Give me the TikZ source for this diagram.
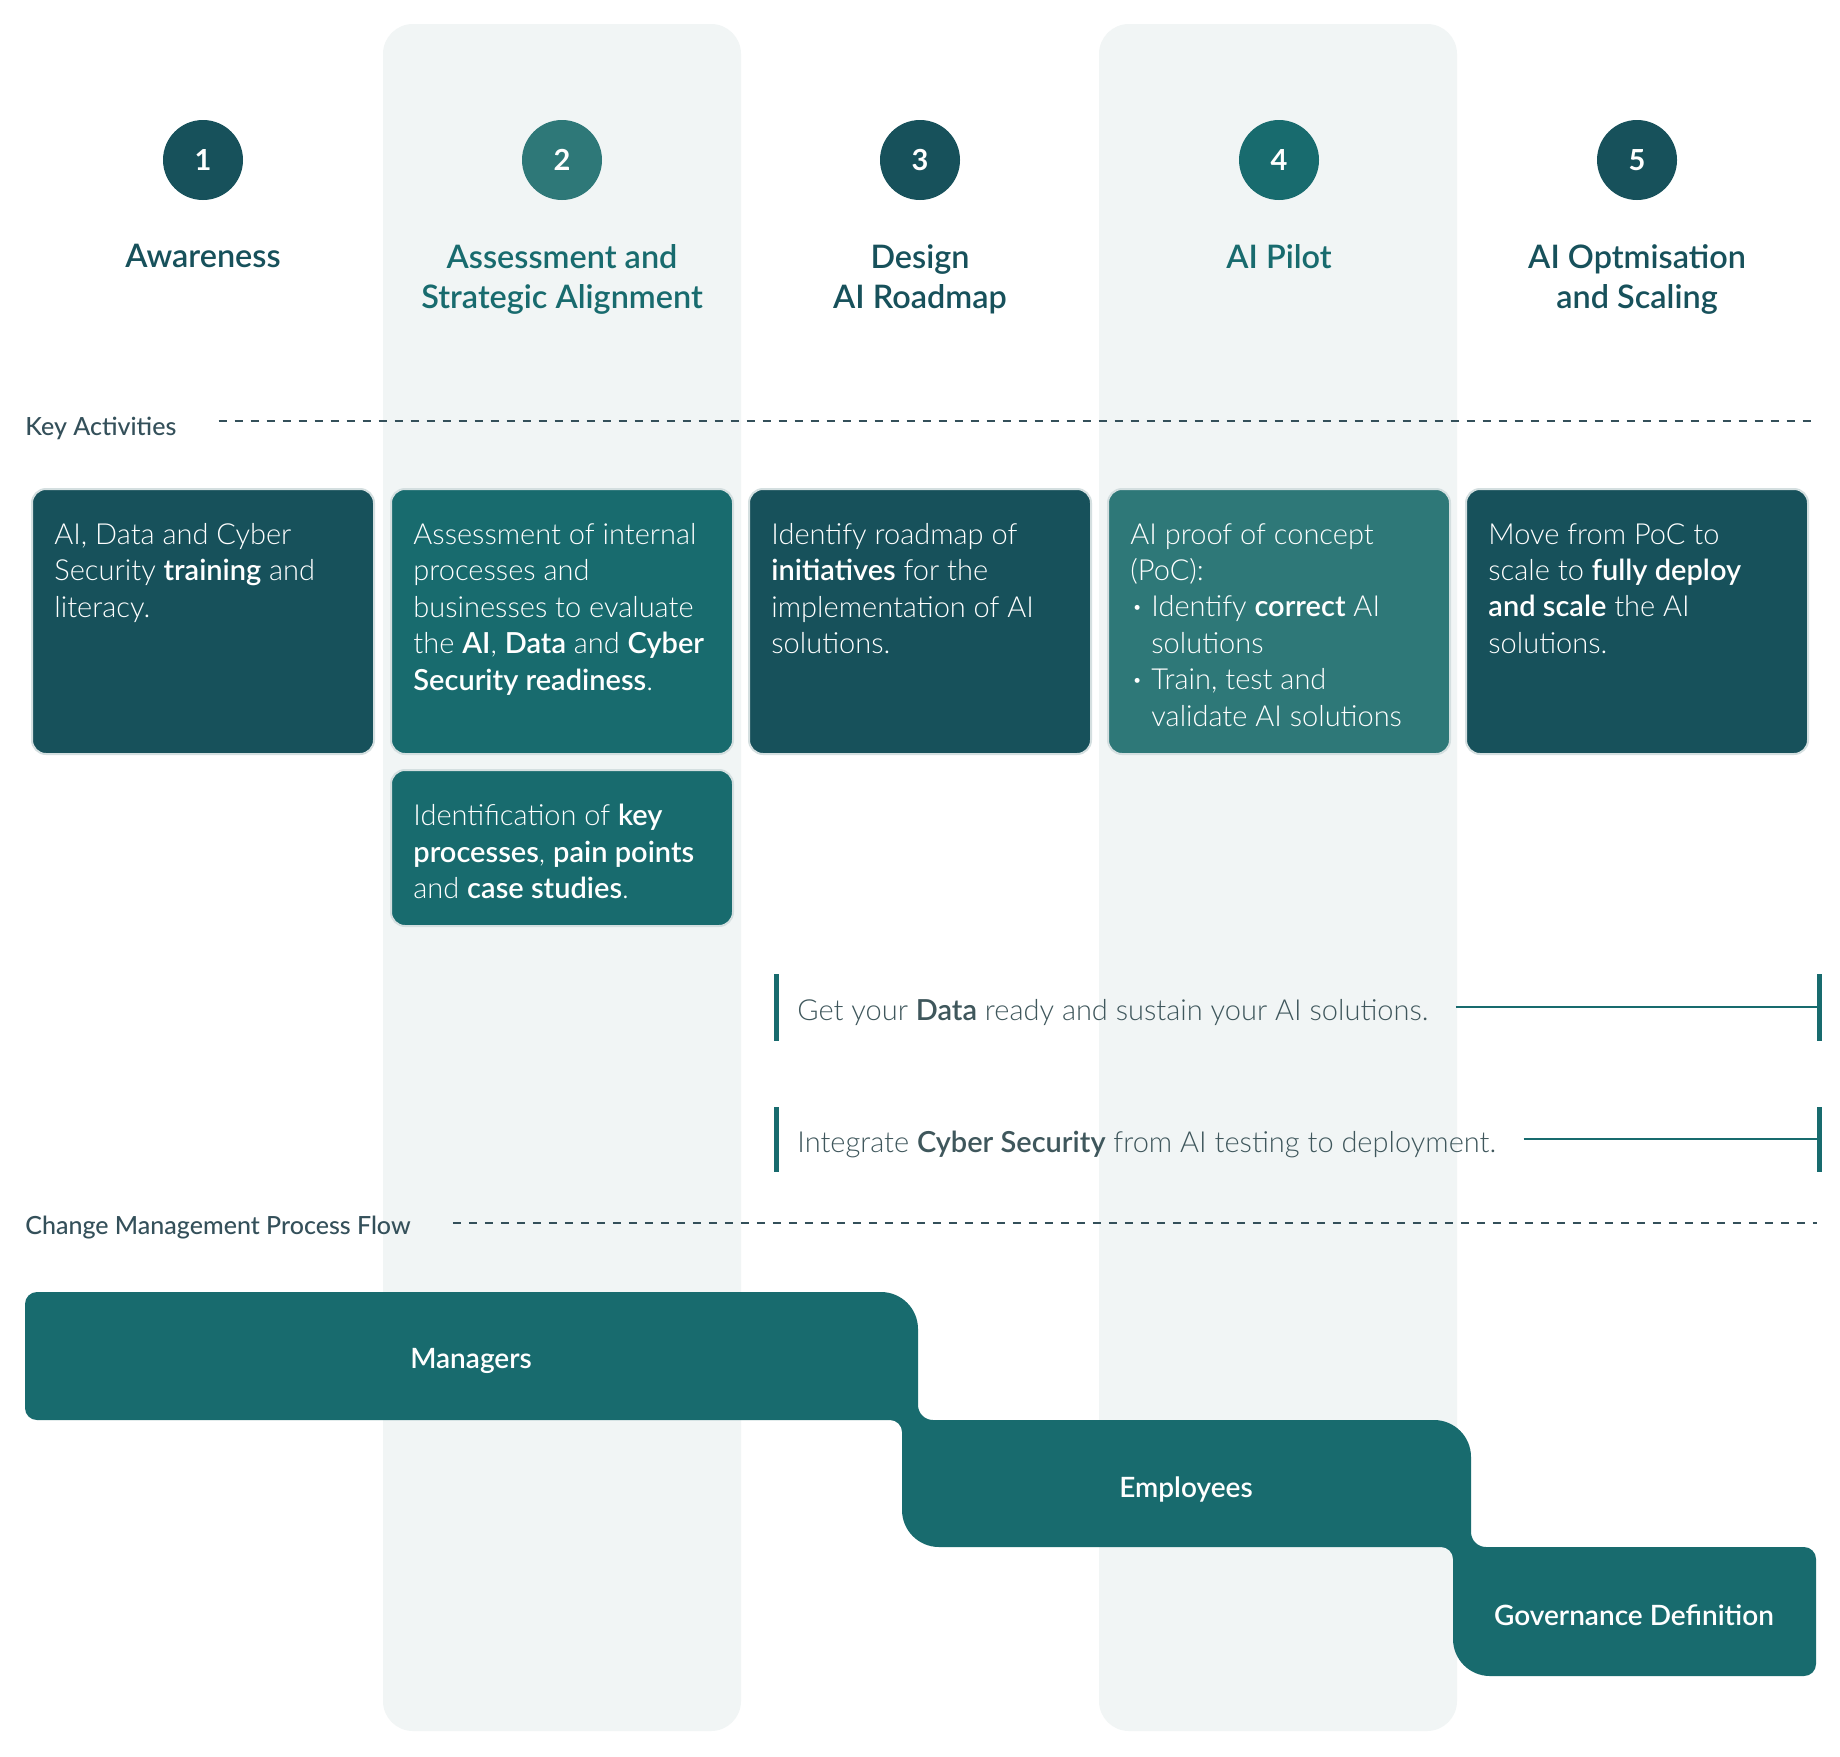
\documentclass[tikz,border=0pt]{standalone}
\usepackage{fontspec}
\setmainfont{Lato}[UprightFont=* Light, BoldFont=* Semibold]
\newfontfamily\semifont{Lato Semibold}
\newfontfamily\boldfont{Lato Bold}
\newfontfamily\medfont{Lato Medium}
\usetikzlibrary{positioning}
\definecolor{darkteal}{HTML}{17515B}
\definecolor{midteal}{HTML}{186B6E}
\definecolor{liteteal}{HTML}{2E7878}
\definecolor{colbg}{HTML}{F1F5F5}
\definecolor{boxedge}{HTML}{D4DFE0}
\definecolor{labelgrey}{HTML}{34505A}
\definecolor{notegrey}{HTML}{3F575C}

\begin{document}
\begin{tikzpicture}[x=0.5pt, y=-0.5pt,
  stepnum/.style={circle, minimum size=40pt, inner sep=0pt, text=white, font=\boldfont\fontsize{14.5}{14.5}\selectfont},
  title/.style={anchor=north, align=center, inner sep=0pt, font=\semifont\fontsize{16.2}{20}\selectfont},
  actbox/.style={draw=boxedge, line width=1pt, rounded corners=7pt, minimum width=171pt, minimum height=132.5pt, inner sep=0pt},
  acttext/.style={anchor=north west, align=left, inner sep=0pt, text=white, font=\fontsize{14.5}{18.2}\selectfont},
  seclabel/.style={anchor=west, inner sep=0pt, text=labelgrey, font=\medfont\fontsize{12.5}{14}\selectfont},
  sepline/.style={labelgrey, line width=1pt, dash pattern=on 4pt off 4pt},
  note/.style={anchor=base west, inner sep=0pt, text=notegrey, font=\fontsize{14.5}{16}\selectfont},
  notebar/.style={midteal, line width=2.5pt},
  noterule/.style={midteal, line width=1.4pt},
  flowlabel/.style={text=white, font=\semifont\fontsize{14}{16}\selectfont}]
  \useasboundingbox (0,0) rectangle (1840,1756);
  \fill[white] (0,0) rectangle (1840,1756);
  % Column highlights
  \fill[colbg, rounded corners=15pt] (383,24) rectangle (741,1731);
  \fill[colbg, rounded corners=15pt] (1099,24) rectangle (1457,1731);
  % Step numbers
  \node[stepnum, fill=darkteal] (n1) at (203,160) {1};
  \node[stepnum, fill=liteteal] (n2) at (562,160) {2};
  \node[stepnum, fill=darkteal] (n3) at (920,160) {3};
  \node[stepnum, fill=midteal] (n4) at (1279,160) {4};
  \node[stepnum, fill=darkteal] (n5) at (1637,160) {5};
  % Step titles
  \node[title, text=darkteal] (t1) at (203,244) {Awareness};
  \node[title, text=midteal] (t2) at (562,244) {Assessment and\\Strategic Alignment};
  \node[title, text=darkteal] (t3) at (920,244) {Design\\AI Roadmap};
  \node[title, text=midteal] (t4) at (1279,244) {AI Pilot};
  \node[title, text=darkteal] (t5) at (1637,244) {AI Optmisation\\and Scaling};
  % Key activities
  \node[seclabel] (keyact) at (25,428) {Key Activities};
  \coordinate (keyend) at (1817,421);
  \draw[sepline] (keyact.east |- keyend) ++(42,0) -- (keyend);
  \node[actbox, fill=darkteal] (act1) at (203,621.5) {};
  \node[actbox, fill=midteal] (act2) at (562,621.5) {};
  \node[actbox, fill=darkteal] (act3) at (920,621.5) {};
  \node[actbox, fill=liteteal] (act4) at (1279,621.5) {};
  \node[actbox, fill=darkteal] (act5) at (1637,621.5) {};
  \node[actbox, fill=midteal, minimum height=78pt] (act2b) at (562,848) {};
  \node[acttext] (act1txt) at ([xshift=11.5pt, yshift=-17.5pt]act1.north west)
    {AI, Data and Cyber\\Security \textbf{training} and\\literacy.};
  \node[acttext] (act2txt) at ([xshift=11.5pt, yshift=-17.5pt]act2.north west)
    {Assessment of internal\\processes and\\businesses to evaluate\\the \textbf{AI}, \textbf{Data} and \textbf{Cyber}\\\textbf{Security readiness}.};
  \node[acttext] (act2btxt) at ([xshift=11.5pt, yshift=-17.5pt]act2b.north west)
    {Identification of \textbf{key}\\\textbf{processes}, \textbf{pain points}\\and \textbf{case studies}.};
  \node[acttext] (act3txt) at ([xshift=11.5pt, yshift=-17.5pt]act3.north west)
    {Identify roadmap of\\\textbf{initiatives} for the\\implementation of AI\\solutions.};
  \node[acttext] (act4txt) at ([xshift=11.5pt, yshift=-17.5pt]act4.north west)
    {AI proof of concept\\(PoC):\\\makebox[10.5pt][l]{\hspace{1.5pt}\textbf{·}}Identify \textbf{correct} AI\\\hspace*{10.5pt}solutions\\\makebox[10.5pt][l]{\hspace{1.5pt}\textbf{·}}Train, test and\\\hspace*{10.5pt}validate AI solutions};
  \node[acttext] (act5txt) at ([xshift=11.5pt, yshift=-17.5pt]act5.north west)
    {Move from PoC to\\scale to \textbf{fully deploy}\\\textbf{and scale} the AI\\solutions.};
  % Data and cyber security notes
  \draw[notebar] (776,974) -- (776,1041);
  \draw[notebar] (1819,974) -- (1819,1041);
  \node[note] (datanote) at (797,1020) {Get your \textbf{Data} ready and sustain your AI solutions.};
  \coordinate (dataend) at (1819,1007);
  \draw[noterule] (datanote.east |- dataend) ++(27,0) -- (dataend);
  \draw[notebar] (776,1107) -- (776,1172);
  \draw[notebar] (1819,1107) -- (1819,1172);
  \node[note] (cybernote) at (797,1152) {Integrate \textbf{Cyber Security} from AI testing to deployment.};
  \coordinate (cyberend) at (1819,1139);
  \draw[noterule] (cybernote.east |- cyberend) ++(27,0) -- (cyberend);
  % Change management flow
  \node[seclabel] (cmflow) at (25,1228) {Change Management Process Flow};
  \coordinate (cmend) at (1817,1223);
  \draw[sepline] (cmflow.east |- cmend) ++(42,0) -- (cmend);
  \fill[midteal] (25,1304) arc[start angle=180, end angle=270, radius=12]
    -- (881,1292) arc[start angle=270, end angle=360, radius=37]
    -- (918,1405) arc[start angle=180, end angle=90, radius=15]
    -- (1434,1420) arc[start angle=270, end angle=360, radius=37]
    -- (1471,1532) arc[start angle=180, end angle=90, radius=15]
    -- (1804,1547) arc[start angle=270, end angle=360, radius=12]
    -- (1816,1664) arc[start angle=0, end angle=90, radius=12]
    -- (1490,1676) arc[start angle=90, end angle=180, radius=37]
    -- (1453,1559) arc[start angle=0, end angle=-90, radius=12]
    -- (939,1547) arc[start angle=90, end angle=180, radius=37]
    -- (902,1432) arc[start angle=0, end angle=-90, radius=12]
    -- (37,1420) arc[start angle=90, end angle=180, radius=12]
    -- cycle;
  \node[flowlabel] (managers) at (471,1361) {Managers};
  \node[flowlabel] (employees) at (1186,1489) {Employees};
  \node[flowlabel] (governance) at (1634,1615) {Governance Definition};
\end{tikzpicture}
\end{document}
